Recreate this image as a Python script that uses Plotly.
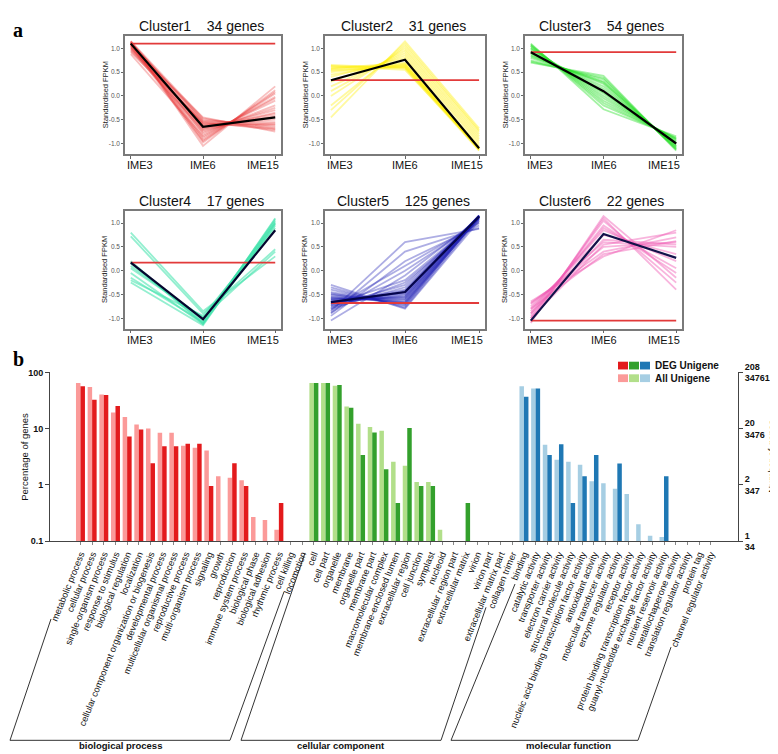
import plotly.graph_objects as go

W, H = 778, 754

# ---------------- data: panel a (gene expression clusters) ----------------
stages = ["IME3", "IME6", "IME15"]
cluster_titles = ["Cluster1", "Cluster2", "Cluster3", "Cluster4", "Cluster5", "Cluster6"]
gene_counts = [34, 31, 54, 17, 125, 22]

c1_genes = [[1.15, -1.05, 0.20], [1.12, -0.98, 0.12], [1.10, -0.92, 0.05], [1.08, -0.88, -0.02],
            [1.05, -0.82, -0.10], [1.13, -0.78, -0.20], [1.00, -0.75, -0.25], [0.95, -0.70, -0.30],
            [1.10, -0.66, -0.38], [1.14, -0.62, -0.45], [1.02, -0.60, -0.50], [0.92, -0.55, -0.55],
            [1.10, -0.52, -0.60], [1.12, -0.50, -0.65], [1.15, -0.47, -0.70], [1.06, -0.45, -0.75],
            [1.00, -0.58, -0.62], [1.09, -0.63, -0.58], [0.88, -0.85, -0.05], [1.04, -0.95, 0.08],
            [1.11, -0.68, -0.42], [1.07, -0.72, -0.35], [0.97, -0.57, -0.68], [1.13, -0.54, -0.72]]
c1_mean = [1.10, -0.65, -0.45]
c1_ref = 1.10

c2_genes = [[0.60, 0.62, -1.12], [0.55, 0.60, -1.10], [0.65, 0.58, -1.15], [0.50, 0.65, -1.08],
            [0.58, 0.70, -1.13], [0.45, 0.68, -1.05], [0.62, 0.55, -1.10], [0.40, 0.80, -1.00],
            [0.30, 0.85, -0.95], [0.20, 0.90, -0.90], [0.10, 0.95, -0.85], [0.00, 1.00, -0.80],
            [-0.20, 1.05, -0.75], [-0.30, 1.10, -0.72], [-0.45, 1.15, -0.68], [0.53, 0.63, -1.12],
            [0.57, 0.66, -1.14], [0.63, 0.60, -1.11]]
c2_mean = [0.33, 0.76, -1.10]
c2_ref = 0.33

c3_genes = [[0.70, 0.42, -1.15], [0.75, 0.35, -1.12], [0.80, 0.30, -1.10], [0.85, 0.25, -1.08],
            [0.88, 0.20, -1.05], [0.90, 0.15, -1.02], [0.95, 0.05, -0.98], [1.00, 0.00, -0.95],
            [1.02, -0.05, -0.93], [1.05, -0.10, -0.90], [1.08, -0.20, -0.88], [1.10, -0.28, -0.85],
            [0.72, 0.38, -1.13], [0.98, 0.08, -1.00], [1.06, -0.15, -0.90], [0.83, 0.28, -1.06]]
c3_mean = [0.92, 0.10, -1.00]
c3_ref = 0.92

c4_genes = [[0.80, -0.85, 0.30], [0.72, -0.90, 0.45], [0.20, -1.10, 1.10], [0.15, -1.05, 1.05],
            [0.10, -1.00, 1.00], [-0.05, -1.12, 0.95], [-0.15, -1.08, 1.08], [-0.20, -0.95, 0.90],
            [-0.25, -1.15, 1.02], [0.05, -0.98, 0.40], [0.18, -1.12, 0.98]]
c4_mean = [0.17, -1.02, 0.85]
c4_ref = 0.17

c5_genes = [[-1.05, -0.10, 1.10], [-0.95, 0.20, 0.95], [-0.90, 0.40, 0.90], [-0.85, 0.60, 0.88],
            [-0.80, 0.10, 1.00], [-0.75, -0.30, 1.12], [-0.70, -0.45, 1.15], [-0.65, -0.50, 1.16],
            [-0.60, -0.55, 1.14], [-0.55, -0.60, 1.12], [-0.50, -0.65, 1.10], [-0.45, -0.70, 1.13],
            [-0.40, -0.75, 1.15], [-0.35, -0.78, 1.10], [-0.30, -0.80, 1.05], [-0.62, -0.48, 1.16],
            [-0.68, -0.52, 1.15], [-0.58, -0.62, 1.14], [-0.72, -0.20, 1.08], [-0.88, 0.00, 1.02],
            [-0.66, -0.45, 1.15], [-0.60, -0.58, 1.13], [-0.70, -0.40, 1.14], [-0.64, -0.55, 1.16],
            [-0.78, -0.35, 1.12], [-0.56, -0.66, 1.15], [-0.52, -0.68, 1.13], [-0.74, -0.42, 1.16],
            [-0.82, -0.25, 1.06], [-0.48, -0.72, 1.12]]
c5_mean = [-0.66, -0.45, 1.14]
c5_ref = -0.68

c6_genes = [[-1.10, 1.15, -0.15], [-1.05, 1.10, -0.40], [-1.00, 1.05, -0.25], [-0.95, 0.95, -0.05],
            [-0.90, 0.90, 0.05], [-0.85, 0.85, 0.20], [-0.80, 0.75, 0.35], [-0.75, 0.60, 0.50],
            [-0.70, 0.50, 0.60], [-0.68, 0.40, 0.70], [-0.65, 0.30, 0.85], [-0.90, 0.65, 0.55],
            [-1.00, 0.55, 0.80], [-0.80, 0.35, 0.62]]
c6_mean = [-1.05, 0.77, 0.27]
c6_ref = -1.05

# ---------------- data: panel b (GO classification) ----------------
bp_terms = ["metabolic process", "cellular process", "single-organism process", "response to stimulus",
            "biological regulation", "localization", "cellular component organization or biogenesis",
            "developmental process", "multicellular organismal process", "reproductive process",
            "multi-organism process", "signaling", "growth", "reproduction", "immune system process",
            "biological phase", "biological adhesion", "rhythmic process", "cell killing", "locomotion"]
cc_terms = ["cell", "cell part", "organelle", "membrane", "organelle part", "membrane part",
            "macromolecular complex", "membrane-enclosed lumen", "extracellular region", "cell junction",
            "symplast", "nucleoid", "extracellular region part", "extracellular matrix", "virion",
            "virion part", "extracellular matrix part", "collagen trimer"]
mf_terms = ["binding", "catalytic activity", "transporter activity", "electron carrier activity",
            "structural molecule activity", "nucleic acid binding transcription factor activity",
            "antioxidant activity", "molecular transducer activity", "enzyme regulator activity",
            "receptor activity", "protein binding transcription factor activity",
            "guanyl-nucleotide exchange factor activity", "nutrient reservoir activity",
            "metallochaperone activity", "translation regulator activity", "protein tag",
            "channel regulator activity"]

bp_all = [64.6, 55.0, 40.6, 19.4, 16.1, 11.9, 10.1, 8.5, 8.5, 5.0, 4.6, 4.1, 1.43, 1.34, 1.22,
          0.27, 0.24, 0.16, None, None]
bp_deg = [56.6, 32.6, 39.6, 25.2, 7.3, 9.7, 2.43, 4.9, 4.9, 5.4, 5.4, 0.96, None, 2.43, 0.96,
          None, None, 0.48, None, None]
cc_all = [64.6, 64.6, 58.0, 24.9, 12.2, 10.7, 9.2, 2.6, 2.2, 1.13, 1.13, 0.16, None, None, None,
          None, None, None]
cc_deg = [64.6, 64.6, 59.7, 23.6, 3.4, 8.6, 1.91, 0.48, 10.3, 0.96, 0.96, None, None, 0.48, None,
          None, None, None]
mf_all = [56.6, 51.5, 5.2, 2.8, 2.6, 2.3, 1.17, 1.07, 0.86, 0.69, 0.20, 0.125, 0.119, None, None,
          None, None]
mf_deg = [37.1, 51.5, 3.4, 5.3, 0.48, 1.43, 3.4, None, 2.4, None, None, None, 1.43, None, None,
          None, None]

left_tick_vals = [0.1, 1, 10, 100]
left_tick_text = ["0.1", "1", "10", "100"]
right_tick_text = ["1<br>34", "2<br>347", "20<br>3476", "208<br>34761"]
group_names = ["biological process", "cellular component", "molecular function"]

# ---------------- helpers ----------------
def fx(x):
    return x / W

def fy(y):
    return 1 - y / H

SANS = "Liberation Sans, Arial, sans-serif"

fig = go.Figure()
layout = dict(width=W, height=H, margin=dict(l=0, r=0, t=0, b=0),
              paper_bgcolor="white", plot_bgcolor="white", showlegend=False,
              barmode="group", bargap=0.23, bargroupgap=0.0)
annotations = []
shapes = []

cols = [(117, 273), (317, 477), (517, 674)]
rows = [(18, 139), (198, 319)]

clusters = [
    (c1_genes, c1_mean, c1_ref, "rgba(232,60,60,0.32)", "#000000"),
    (c2_genes, c2_mean, c2_ref, "rgba(255,240,20,0.40)", "#000000"),
    (c3_genes, c3_mean, c3_ref, "rgba(40,225,40,0.42)", "#000000"),
    (c4_genes, c4_mean, c4_ref, "rgba(60,225,170,0.55)", "#05052e"),
    (c5_genes, c5_mean, c5_ref, "rgba(30,30,180,0.36)", "#05054a"),
    (c6_genes, c6_mean, c6_ref, "rgba(240,90,180,0.45)", "#12124a"),
]

for i, (genes, mean, ref, gcol, mcol) in enumerate(clusters):
    r, c = divmod(i, 3)
    x0, x1 = cols[c]
    y0, y1 = rows[r]
    n = i + 1
    xa = "x" if n == 1 else f"x{n}"
    ya = "y" if n == 1 else f"y{n}"
    xk = "xaxis" if n == 1 else f"xaxis{n}"
    yk = "yaxis" if n == 1 else f"yaxis{n}"
    for g in genes:
        fig.add_trace(go.Scatter(x=stages, y=g, mode="lines", xaxis=xa, yaxis=ya,
                                 line=dict(color=gcol, width=1.8), hoverinfo="skip"))
    fig.add_trace(go.Scatter(x=stages, y=[ref] * 3, mode="lines", xaxis=xa, yaxis=ya,
                             line=dict(color="#e23a3a", width=1.8), hoverinfo="skip"))
    fig.add_trace(go.Scatter(x=stages, y=mean, mode="lines", xaxis=xa, yaxis=ya,
                             line=dict(color=mcol, width=2.2), hoverinfo="skip"))
    layout[xk] = dict(domain=[fx(x0), fx(x1)], anchor=ya, type="category",
                      categoryorder="array", categoryarray=stages, range=[-0.08, 2.08],
                      showticklabels=False, ticks="outside", ticklen=3, tickcolor="#666",
                      showline=True, mirror=True, linecolor="#7a7a7a", linewidth=1.5,
                      showgrid=False, zeroline=False, fixedrange=True)
    layout[yk] = dict(domain=[fy(y1), fy(y0)], anchor=xa, range=[-1.22, 1.25],
                      tickvals=[-1, -0.5, 0, 0.5, 1], ticktext=["-1.0", "-0.5", "0.0", "0.5", "1.0"],
                      tickfont=dict(size=6.5, color="#555", family=SANS), ticks="outside", ticklen=2,
                      tickcolor="#666", showline=True, mirror=True, linecolor="#7a7a7a",
                      linewidth=1.5, showgrid=False, zeroline=False, fixedrange=True)
    for sx, anc, lab in [(0, "left", stages[0]), (0.5, "center", stages[1]), (1, "right", stages[2])]:
        annotations.append(dict(xref=f"{xa} domain", yref="paper", x=sx, y=fy(y1 + 3),
                                xanchor=anc, yanchor="top", text=lab, showarrow=False,
                                font=dict(size=11, color="#111", family=SANS)))
    annotations.append(dict(xref="paper", yref="paper", x=fx(x0 - 20), y=fy((y0 + y1) / 2),
                            text="Standardised FPKM", textangle=-90, showarrow=False,
                            xanchor="center", yanchor="middle",
                            font=dict(size=7.5, color="#222", family=SANS)))
    annotations.append(dict(xref="paper", yref="paper", x=fx((x0 + x1) / 2 - 2), y=fy(y0 - 11),
                            text=f"{cluster_titles[i]}\u00a0\u00a0\u00a0\u00a0{gene_counts[i]} genes",
                            showarrow=False, xanchor="center", yanchor="middle",
                            font=dict(size=14, color="#111", family=SANS)))

# ---------------- panel b ----------------
terms = bp_terms + cc_terms + mf_terms
all_vals = bp_all + cc_all + mf_all
deg_vals = bp_deg + cc_deg + mf_deg
light = ["#fb9a99"] * len(bp_terms) + ["#b2df8a"] * len(cc_terms) + ["#a6cee3"] * len(mf_terms)
dark = ["#e31a1c"] * len(bp_terms) + ["#33a02c"] * len(cc_terms) + ["#1f78b4"] * len(mf_terms)

fig.add_trace(go.Bar(x=terms, y=all_vals, marker=dict(color=light, line=dict(width=0)),
                     xaxis="x7", yaxis="y7", name="All Unigene"))
fig.add_trace(go.Bar(x=terms, y=deg_vals, marker=dict(color=dark, line=dict(width=0)),
                     xaxis="x7", yaxis="y7", name="DEG Unigene"))
fig.add_trace(go.Scatter(x=[terms[0]], y=[1], xaxis="x7", yaxis="y8", mode="markers",
                         marker=dict(opacity=0), hoverinfo="skip"))

bx0, bx1, by0, by1 = 42, 730, 364, 538
layout["xaxis7"] = dict(domain=[fx(bx0), fx(bx1)], anchor="y7", type="category",
                        categoryorder="array", categoryarray=terms, range=[-2.61, 56.34],
                        tickmode="array", tickvals=terms, ticktext=terms,
                        tickangle=-68, tickfont=dict(size=9.2, color="#111", family=SANS),
                        ticks="outside", ticklen=3, tickcolor="#888", showline=True,
                        linecolor="#444", linewidth=1, showgrid=False, automargin=False)
layout["yaxis7"] = dict(domain=[fy(by1), fy(by0)], anchor="x7", type="log", range=[-1, 2],
                        tickvals=left_tick_vals, ticktext=left_tick_text,
                        tickfont=dict(size=9, color="#111", family=SANS, weight="bold"),
                        ticks="outside", ticklen=4, tickcolor="#444", showline=True,
                        linecolor="#444", linewidth=1, showgrid=False, zeroline=False)
layout["yaxis8"] = dict(domain=[fy(by1), fy(by0)], anchor="x7", overlaying="y7", side="right",
                        type="log", range=[-1, 2], tickvals=left_tick_vals, ticktext=right_tick_text,
                        tickfont=dict(size=9, color="#111", family=SANS, weight="bold"),
                        ticks="outside", ticklen=4, tickcolor="#444", showline=True,
                        linecolor="#444", linewidth=1, showgrid=False, zeroline=False)

annotations.append(dict(xref="paper", yref="paper", x=fx(17), y=fy(451), text="Percentage of genes",
                        textangle=-90, showarrow=False, xanchor="center", yanchor="middle",
                        font=dict(size=9.5, color="#111", family=SANS)))
annotations.append(dict(xref="paper", yref="paper", x=fx(764), y=fy(451), text="Number of genes",
                        textangle=-90, showarrow=False, xanchor="center", yanchor="middle",
                        font=dict(size=9.5, color="#111", family=SANS)))

# legend
for k, colr in enumerate(["#e31a1c", "#33a02c", "#1f78b4"]):
    shapes.append(dict(type="rect", xref="paper", yref="paper", x0=fx(610 + 11 * k), x1=fx(620 + 11 * k),
                       y0=fy(361), y1=fy(353), fillcolor=colr, line=dict(width=0)))
for k, colr in enumerate(["#fb9a99", "#b2df8a", "#a6cee3"]):
    shapes.append(dict(type="rect", xref="paper", yref="paper", x0=fx(610 + 11 * k), x1=fx(620 + 11 * k),
                       y0=fy(374), y1=fy(366), fillcolor=colr, line=dict(width=0)))
annotations.append(dict(xref="paper", yref="paper", x=fx(645), y=fy(357), text="<b>DEG Unigene</b>",
                        showarrow=False, xanchor="left", yanchor="middle",
                        font=dict(size=10, color="#111", family=SANS)))
annotations.append(dict(xref="paper", yref="paper", x=fx(645), y=fy(370), text="<b>All Unigene</b>",
                        showarrow=False, xanchor="left", yanchor="middle",
                        font=dict(size=10, color="#111", family=SANS)))

# group brackets
brackets = [
    [(43, 618), (2, 743), (222, 743), (276, 590)],
    [(297, 550), (233, 743), (433, 743), (478, 606)],
    [(507, 582), (443, 743), (630, 743), (663, 647)],
]
for pts in brackets:
    for (ax, ay), (bx, by) in zip(pts[:-1], pts[1:]):
        shapes.append(dict(type="line", xref="paper", yref="paper", x0=fx(ax), y0=fy(ay),
                           x1=fx(bx), y1=fy(by), line=dict(color="#333", width=1)))
for name, cx in zip(group_names, [112, 333, 560]):
    annotations.append(dict(xref="paper", yref="paper", x=fx(cx), y=fy(748), text=f"<b>{name}</b>",
                            showarrow=False, xanchor="center", yanchor="middle",
                            font=dict(size=9.5, color="#111", family=SANS)))

annotations.append(dict(xref="paper", yref="paper", x=fx(3), y=fy(11), text="<b>a</b>", showarrow=False,
                        xanchor="left", yanchor="middle",
                        font=dict(size=20, color="#000", family="Liberation Serif, Times New Roman, serif")))
annotations.append(dict(xref="paper", yref="paper", x=fx(3), y=fy(350), text="<b>b</b>", showarrow=False,
                        xanchor="left", yanchor="middle",
                        font=dict(size=20, color="#000", family="Liberation Serif, Times New Roman, serif")))

layout["annotations"] = annotations
layout["shapes"] = shapes
fig.update_layout(**layout)
fig.write_html("out.html")
